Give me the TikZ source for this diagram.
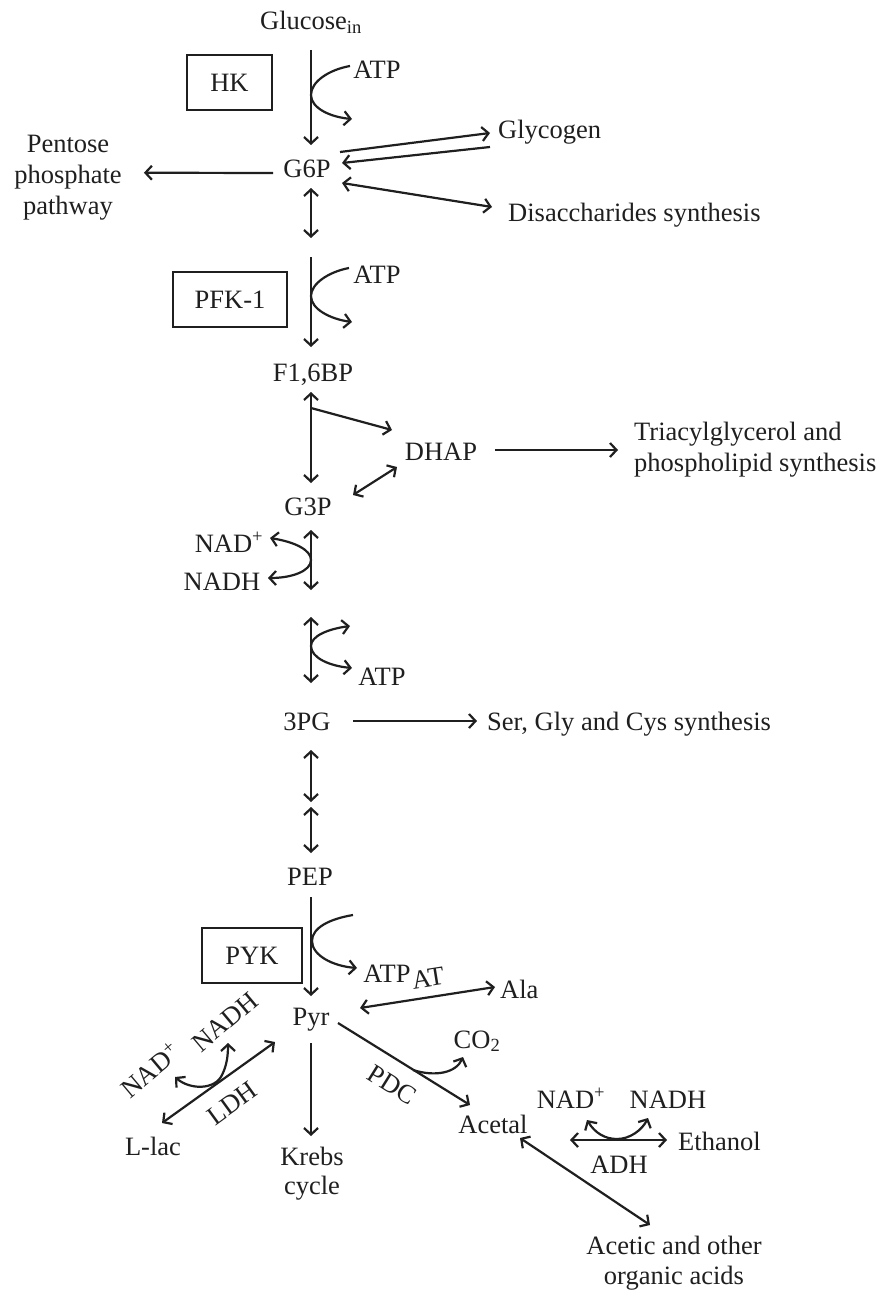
\documentclass[tikz,border=0pt]{standalone}
\usepackage{fontspec}
\setmainfont{Liberation Serif}
\usetikzlibrary{arrows.meta,calc}
\definecolor{ink}{gray}{0.12}
\newcommand{\fs}{\fontsize{26.5}{31}\selectfont}
\begin{document}
\begin{tikzpicture}[x=1pt,y=-1pt,
  >={Straight Barb[length=6.5pt,width=14pt]},
  link/.style={draw=ink, line width=2.2pt},
  lbl/.style={inner sep=0pt, anchor=base, text=ink, font=\fs},
  lblw/.style={lbl, anchor=base west},
  block/.style={inner sep=0pt, text=ink, font=\fs, align=center, anchor=north},
  enz/.style={draw=ink, line width=2pt, inner sep=0pt, minimum height=55pt, text=ink, font=\fs},
  tilt/.style={inner sep=0pt, text=ink, font=\fs, rotate=#1}]

\fill[white] (0,0) rectangle (889,1290);
\useasboundingbox (0,0) rectangle (889,1290);

% ---- metabolites, cofactors and enzymes ----
\node[lbl] (glc) at (311,30) {Glucose\textsubscript{in}};
\node[lbl] (atp1) at (377,78) {ATP};
\node[enz, minimum width=85pt] (hk) at (229.5,82.5) {HK};
\coordinate (adp1) at (352,119);
\node[lbl] (g6p) at (307,177) {G6P};
\node[lblw] (glyc) at (498,138) {Glycogen};
\node[lblw] (disac) at (508,221) {Disaccharides synthesis};
\node[block] (ppp) at (68,135) {Pentose\\phosphate\\pathway};
\coordinate (f6p) at (311,247);
\node[lbl] (atp2) at (377,283) {ATP};
\node[enz, minimum width=114pt] (pfk) at (230,299.5) {PFK-1};
\coordinate (adp2) at (352,322);
\node[lbl] (f16bp) at (313,381) {F1,6BP};
\node[lbl] (dhap) at (441,460) {DHAP};
\node[block, anchor=north west, align=left] (tag) at (634,422) {Triacylglycerol and\\phospholipid synthesis};
\node[lbl] (g3p) at (308,515) {G3P};
\node[lbl] (nadp1) at (229,552) {NAD\textsuperscript{+}};
\node[lbl] (nadh1) at (222,590) {NADH};
\coordinate (bpg) at (311,603);
\coordinate (adp3) at (350,626);
\node[lbl] (atp3) at (382,685) {ATP};
\node[lbl] (pg3) at (307,730) {3PG};
\node[lblw] (aa) at (487,730) {Ser, Gly and Cys synthesis};
\coordinate (pg2) at (311,804.5);
\node[lbl] (pep) at (310,885) {PEP};
\node[enz, minimum width=100pt] (pyk) at (252,955.5) {PYK};
\coordinate (adp4) at (353,915);
\node[lbl] (atp4) at (387,982) {ATP};
\node[tilt=9] (at) at (428,978) {AT};
\node[lblw] (ala) at (500,998) {Ala};
\node[lbl] (pyr) at (311,1025) {Pyr};
\node[lbl] (co2) at (477,1048) {CO\textsubscript{2}};
\node[tilt=-32] (pdc) at (392,1085) {PDC};
\node[lbl] (acetal) at (493,1133) {Acetal};
\node[lbl] (nadp2) at (571,1108) {NAD\textsuperscript{+}};
\node[lbl] (nadh2) at (668,1108) {NADH};
\node[lblw] (etoh) at (678,1150) {Ethanol};
\node[lbl] (adh) at (619,1173) {ADH};
\node[block, font=\fontsize{26.5}{29.5}\selectfont] (acids) at (674,1236) {Acetic and other\\organic acids};
\node[block, font=\fontsize{26.5}{29}\selectfont] (krebs) at (312,1147) {Krebs\\cycle};
\node[lbl] (llac) at (153,1155) {L-lac};
\node[tilt=40] (nadp3) at (150,1070) {NAD\textsuperscript{+}};
\node[tilt=40] (nadh3) at (225,1022) {NADH};
\node[tilt=36] (ldh) at (232,1103) {LDH};

% ---- hexokinase step and G6P branches ----
\draw[link,->] ($(glc.base)+(0,20)$) -- ($(g6p.base)+(4,-32)$);
\draw[link,->] ($(atp1.base)+(-27,-12)$) .. controls (328,70) and (311,82) .. (311,95)
  .. controls (311,108) and (330,117) .. (adp1);
\draw[link,->] ($(g6p.base)+(33,-25)$) -- ($(glyc.base west)+(-8,-5)$);
\draw[link,->] ($(glyc.base west)+(-8,9)$) -- ($(g6p.base)+(35,-14)$);
\draw[link,<->] ($(g6p.base)+(35,6)$) -- ($(disac.base west)+(-16,-14)$);
\draw[link,->] ($(g6p.base)+(-34,-4)$) -- ($(ppp.east)+(22,-5)$);
\draw[link,<->] ($(g6p.base)+(4,11)$) -- ($(f6p)+(0,-9)$);

% ---- PFK-1 step, aldolase, triose phosphates ----
\draw[link,->] ($(f6p)+(0,10)$) -- ($(f16bp.base)+(-2,-34)$);
\draw[link,->] ($(atp2.base)+(-28,-15)$) .. controls (328,272) and (311,284) .. (311,296)
  .. controls (311,309) and (330,319) .. (adp2);
\draw[link,<->] ($(f16bp.base)+(-2,11)$) -- ($(g3p.base)+(3,-32)$);
\draw[link,->] ($(f16bp.base)+(-2,27)$) -- ($(dhap.base)+(-49,-30)$);
\draw[link,->] ($(dhap.base)+(54,-10)$) -- ($(tag.north west)+(-16,28)$);
\draw[link,<->] ($(g3p.base)+(45,-20)$) -- ($(dhap.base)+(-44,7)$);

% ---- lower glycolysis ----
\draw[link,<->] ($(g3p.base)+(3,15)$) -- ($(bpg)+(0,-13)$);
\draw[link,<->] ($(nadp1.base)+(41,-14)$) .. controls (295,542) and (311,550) .. (311,560)
  .. controls (311,571) and (292,578) .. ($(nadh1.base)+(46,-12)$);
\draw[link,<->] ($(bpg)+(0,14)$) -- ($(pg3.base)+(4,-47)$);
\draw[link,<->] (adp3) .. controls (328,629) and (311,636) .. (311,646)
  .. controls (311,658) and (330,666) .. ($(atp3.base)+(-30,-17)$);
\draw[link,->] ($(pg3.base)+(46,-9)$) -- ($(aa.base west)+(-10,-9)$);
\draw[link,<->] ($(pg3.base)+(4,20)$) -- ($(pg2)+(0,-2.5)$);
\draw[link,<->] ($(pg2)+(0,2.5)$) -- ($(pep.base)+(1,-32)$);
\draw[link,->] ($(pep.base)+(1,12)$) -- ($(pyr.base)+(0,-29)$);
\draw[link,->] (adp4) .. controls (329,919) and (312,928) .. (312,941)
  .. controls (312,955) and (332,966) .. ($(atp4.base)+(-30,-14)$);

% ---- pyruvate fates ----
\draw[link,<->] ($(pyr.base)+(49,-17)$) -- ($(ala.base west)+(-5,-11)$);
\draw[link,->] ($(pyr.base)+(27,-2)$) -- ($(acetal.base)+(-23,-28)$);
\draw[link,->] ($(pyr.base)+(102,45)$) .. controls (435,1077) and (456,1073) .. ($(co2.base)+(-14,9)$);
\draw[link,<->] ($(acetal.base)+(77,7)$) -- ($(etoh.base west)+(-11,-10)$);
\draw[link,<->] ($(nadp2.base)+(16,12)$) .. controls (595,1133) and (605,1139) .. (617,1139)
  .. controls (630,1139) and (642,1130) .. ($(nadh2.base)+(-20,10)$);
\draw[link,<->] ($(acetal.base)+(27,5)$) -- ($(acids.north)+(-24,-11)$);
\draw[link,->] ($(pyr.base)+(0,18)$) -- ($(krebs.north)+(-1,-11)$);
\draw[link,<->] ($(pyr.base)+(-36,17)$) -- ($(llac.base)+(9,-32)$);
\draw[link,<->] ($(nadp3)+(25,7)$) .. controls (190,1090) and (215,1090) .. (222,1075)
  .. controls (227,1065) and (228,1055) .. ($(nadh3)+(3,21)$);
\end{tikzpicture}
\end{document}
